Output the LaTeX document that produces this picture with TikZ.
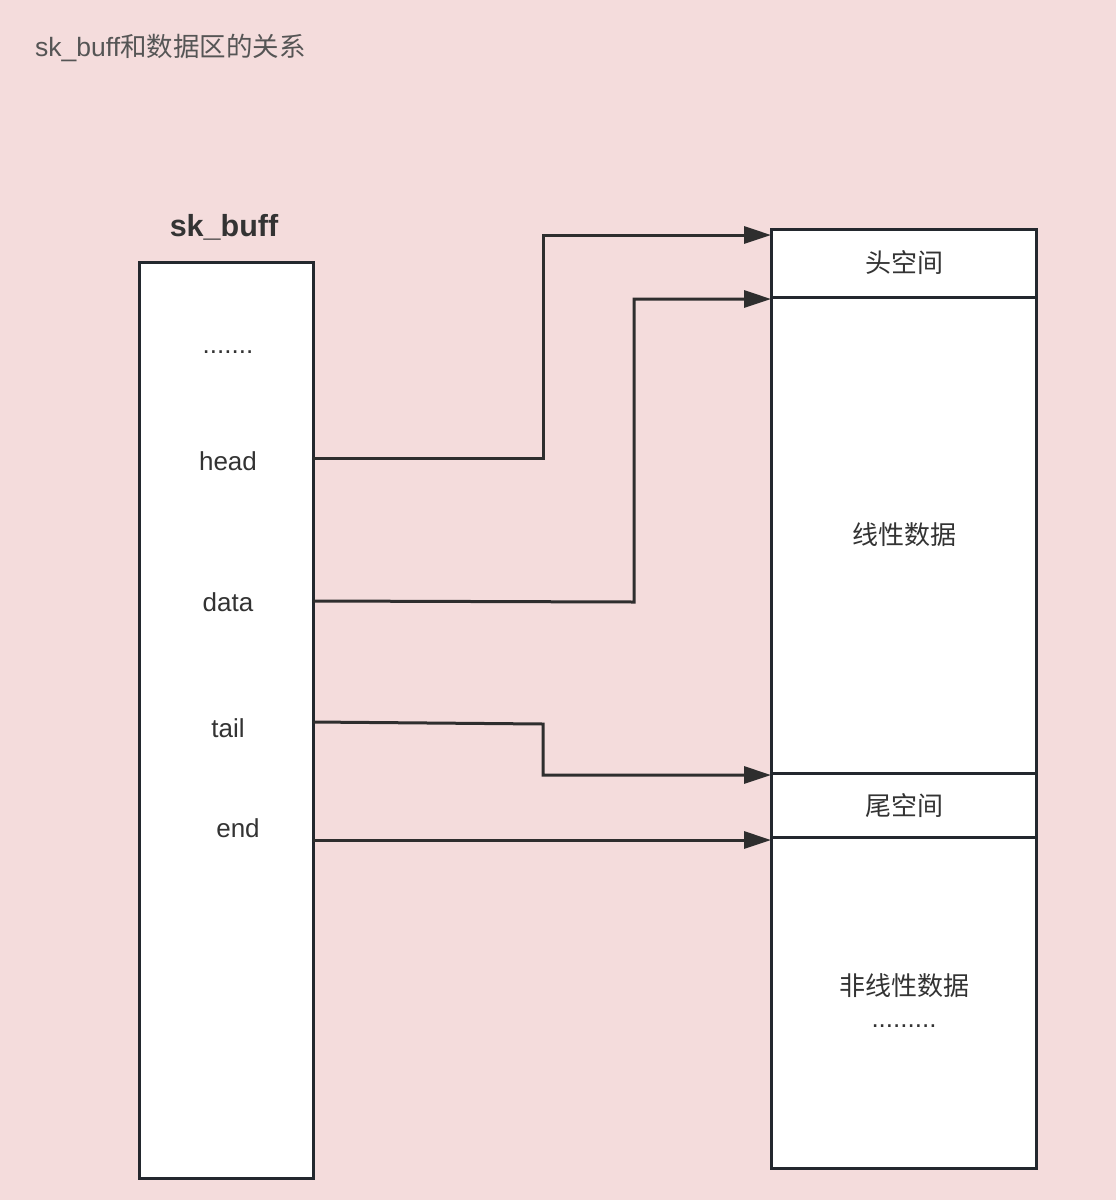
\documentclass[tikz,border=0pt]{standalone}
\usepackage{fontspec}
\setmainfont{Liberation Sans}
\newfontfamily\cjk{Noto Sans CJK SC}
\usetikzlibrary{arrows.meta}
\definecolor{bg}{HTML}{F4DCDC}
\definecolor{edge}{HTML}{23282E}
\definecolor{wire}{HTML}{2E2E2E}
\definecolor{txt}{HTML}{333333}
\definecolor{ttl}{HTML}{555555}
\tikzset{
  boxshape/.style={draw=edge, fill=white, line width=3pt, inner sep=0pt, outer sep=0pt, anchor=north west},
  lbl/.style={text=txt, font=\fontsize{26}{30}\selectfont, inner sep=0pt},
  cjklbl/.style={text=txt, font=\fontsize{26}{30}\selectfont\cjk, inner sep=0pt},
  ptr/.style={draw=wire, line width=3pt, -{Triangle[length=27pt,width=17pt]}},
}
\begin{document}
\begin{tikzpicture}[x=1pt,y=-1pt]
\useasboundingbox (0,0) rectangle (1116,1200);
\fill[bg] (0,0) rectangle (1116,1200);

\node[text=ttl, font=\fontsize{26.5}{30}\selectfont, inner sep=0pt, anchor=base west] (title) at (35,56) {sk\_buff{\cjk 和数据区的关系}};

% left structure
\node[boxshape, minimum width=174pt, minimum height=916pt] (skb) at (139,262) {};
\node[text=txt, font=\fontsize{30.5}{34}\selectfont\bfseries, inner sep=0pt, anchor=base] (skbt) at (224,236) {sk\_buff};
\node[lbl, anchor=base] (dots1) at (228,353) {.......};
\node[lbl, anchor=base] (head) at (228,470) {head};
\node[lbl, anchor=base] (data) at (228,611) {data};
\node[lbl, anchor=base] (tail) at (228,737) {tail};
\node[lbl, anchor=base] (end) at (238,837) {end};

% right data area
\node[boxshape, minimum width=265pt, minimum height=68pt] (hs) at (771,229) {};
\node[boxshape, minimum width=265pt, minimum height=476pt] (lin) at (771,297) {};
\node[boxshape, minimum width=265pt, minimum height=64pt] (ts) at (771,773) {};
\node[boxshape, minimum width=265pt, minimum height=331pt] (nl) at (771,837) {};
\node[cjklbl] (hst) at (904,263) {头空间};
\node[cjklbl] (lint) at (904,535) {线性数据};
\node[cjklbl] (tst) at (904,806) {尾空间};
\node[cjklbl] (nlt) at (904,986) {非线性数据};
\node[lbl, anchor=base] (dots2) at (904,1027) {.........};

% pointer anchors
\coordinate (hp) at (313,458);
\coordinate (dp) at (313,601);
\coordinate (tp) at (313,722);
\coordinate (ep) at (313,840);
\coordinate (hq) at (771,235);
\coordinate (dq) at (771,299);
\coordinate (tq) at (771,775);
\coordinate (eq) at (771,840);

\draw[ptr] (hp) -- (543,458) -- (543,235) -- (hq);
\draw[ptr] (dp) -- (634,602) -- (634,299) -- (dq);
\draw[ptr] (tp) -- (543,724) -- (543,775) -- (tq);
\draw[ptr] (ep) -- (eq);
\end{tikzpicture}
\end{document}
